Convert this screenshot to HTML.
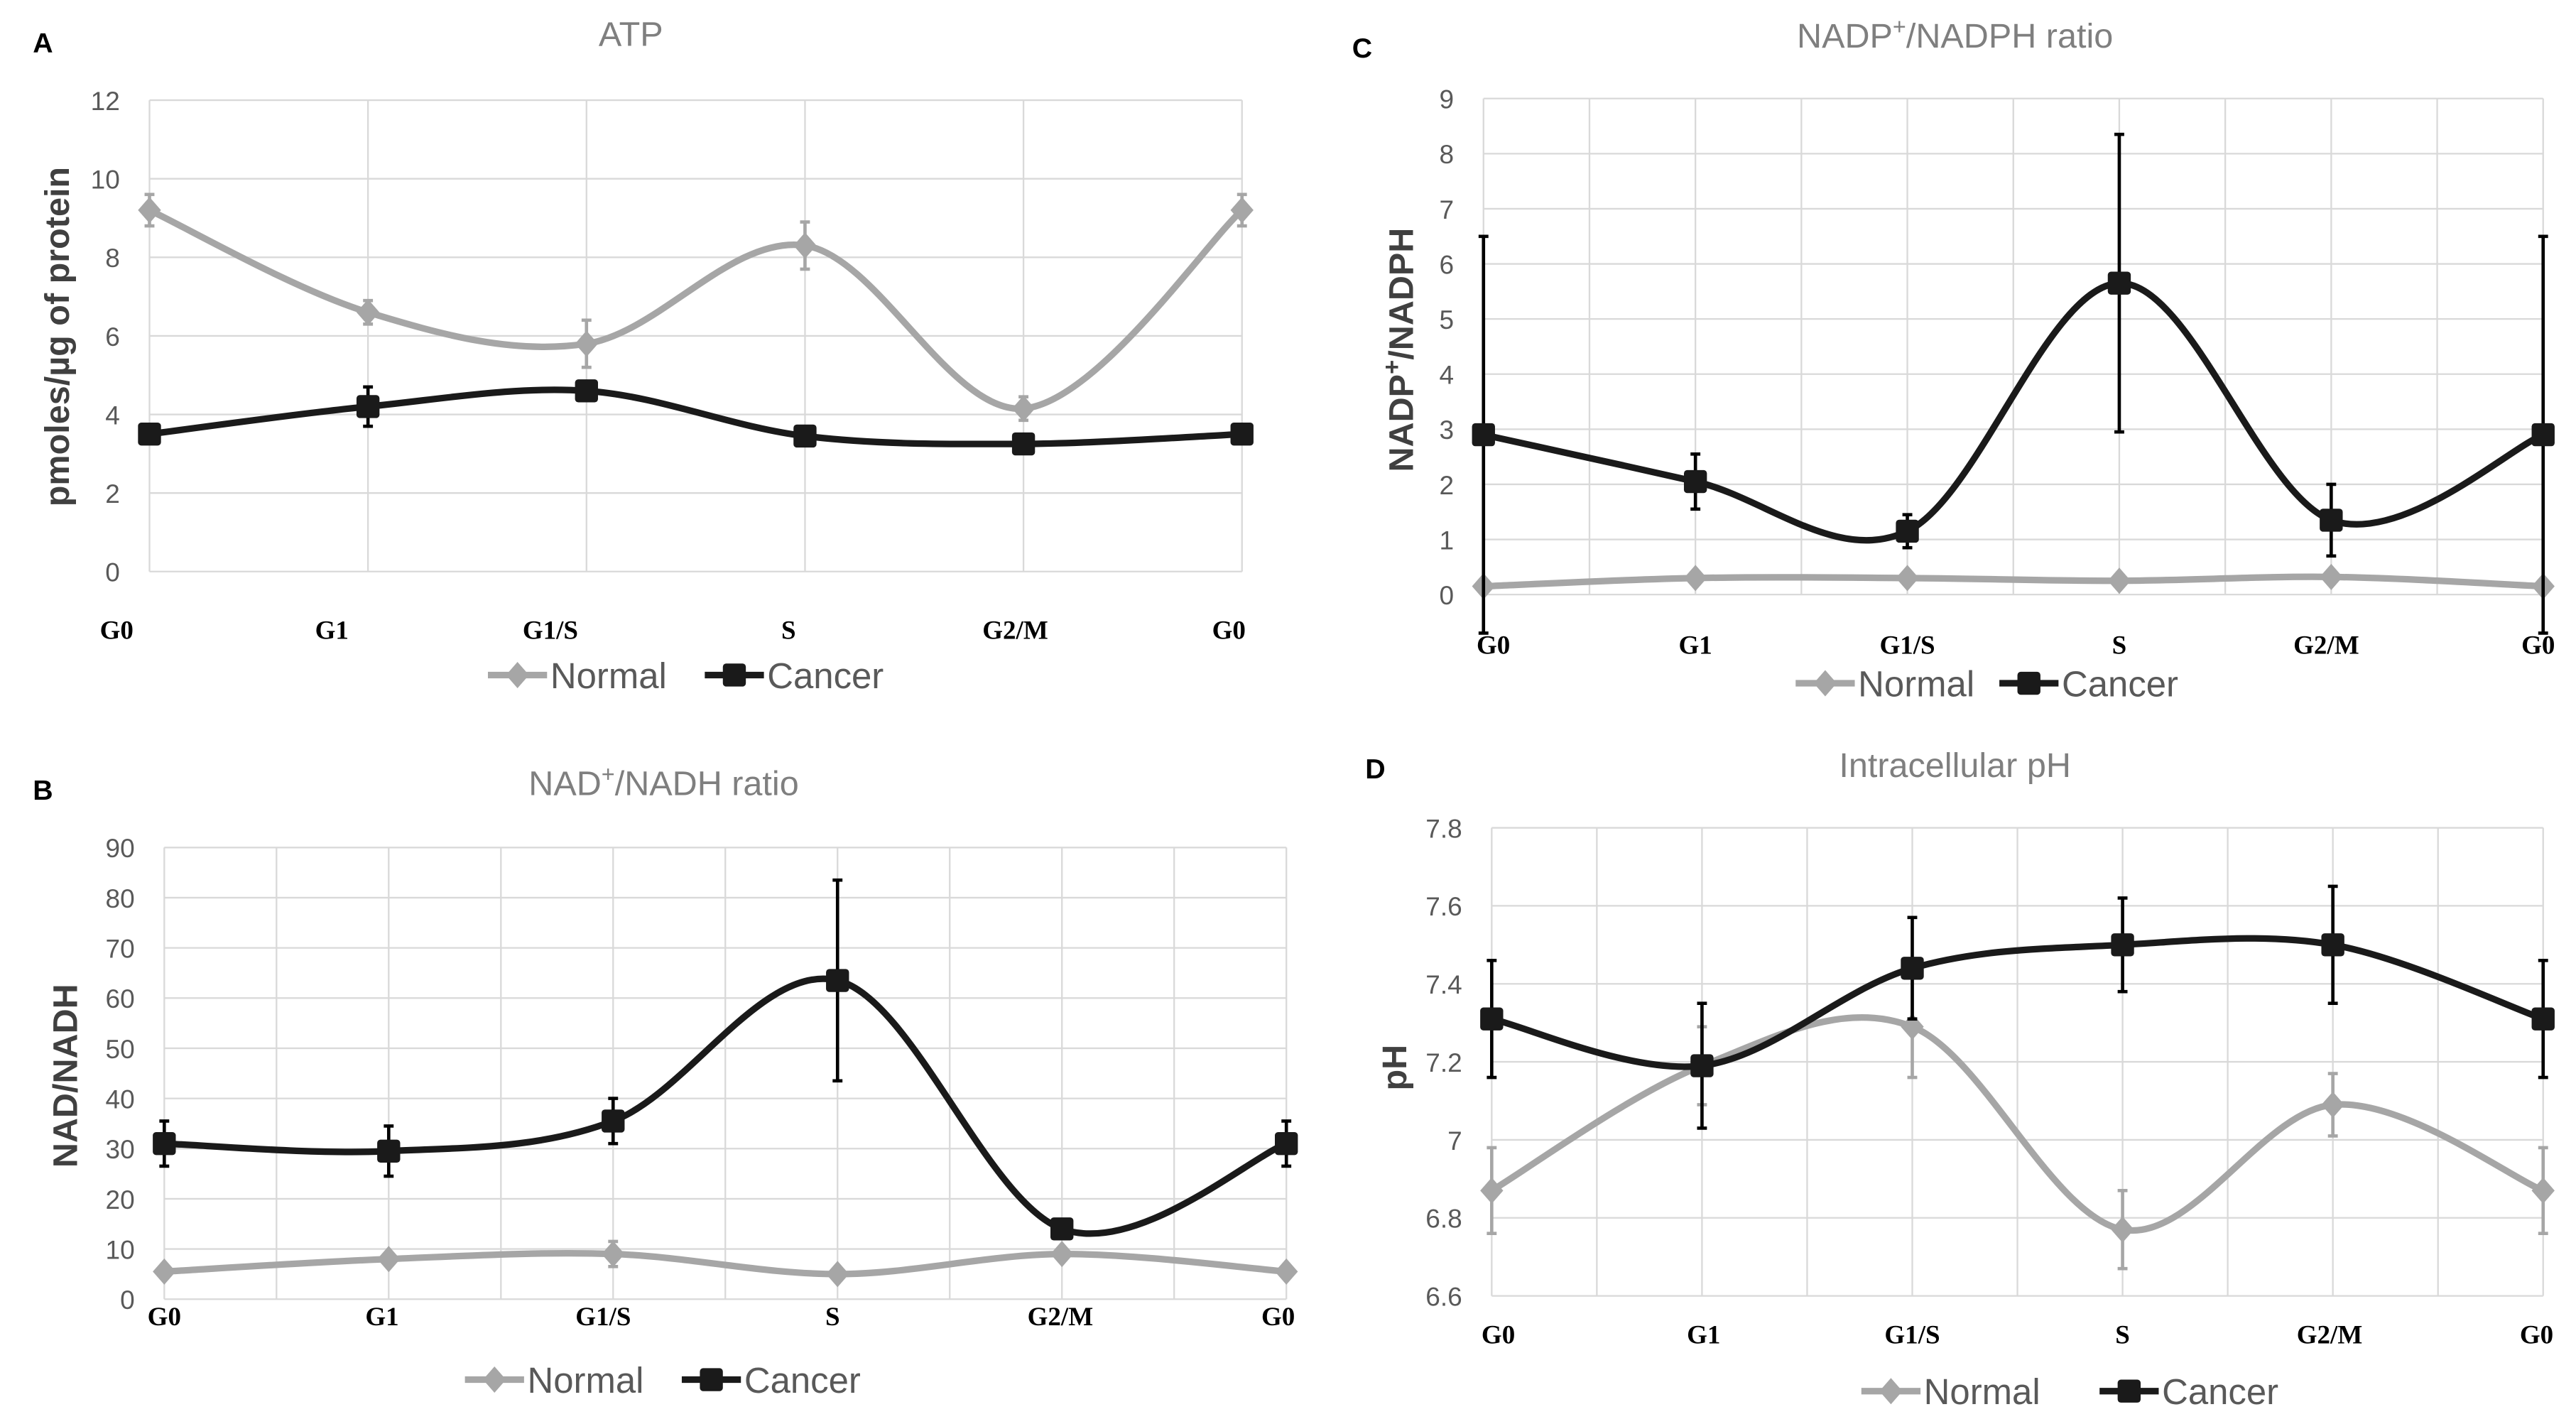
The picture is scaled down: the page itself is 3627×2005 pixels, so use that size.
<!DOCTYPE html>
<html><head><meta charset="utf-8"><style>
html,body{margin:0;padding:0;background:#fff}
svg{display:block}
</style></head><body>
<svg id="fig" width="3627" height="2005" viewBox="0 0 1568 867" preserveAspectRatio="none" xmlns="http://www.w3.org/2000/svg"></svg>
<script>
const categories = ["G0","G1","G1/S","S","G2/M","G0"];
// Panel A - ATP
const atpNormal = [9.2, 6.6, 5.8, 8.3, 4.15, 9.2];
const atpNormalErr = [0.4, 0.3, 0.6, 0.6, 0.3, 0.4];
const atpCancer = [3.5, 4.2, 4.6, 3.45, 3.25, 3.5];
const atpCancerErr = [0, 0.5, 0, 0, 0, 0];
const atpTicks = [0, 2, 4, 6, 8, 10, 12];
// Panel B - NAD+/NADH
const nadNormal = [5.5, 8, 9, 5, 9, 5.5];
const nadNormalErr = [0, 0, 2.5, 0, 0, 0];
const nadCancer = [31, 29.5, 35.5, 63.5, 14, 31];
const nadCancerErr = [4.5, 5, 4.5, 20, 0, 4.5];
const nadTicks = [0, 10, 20, 30, 40, 50, 60, 70, 80, 90];
// Panel C - NADP+/NADPH
const nadpNormal = [0.15, 0.3, 0.3, 0.25, 0.32, 0.15];
const nadpNormalErr = [0, 0, 0, 0, 0, 0];
const nadpCancer = [2.9, 2.05, 1.15, 5.65, 1.35, 2.9];
const nadpCancerErr = [3.6, 0.5, 0.3, 2.7, 0.65, 3.6];
const nadpTicks = [0, 1, 2, 3, 4, 5, 6, 7, 8, 9];
// Panel D - pH
const phNormal = [6.87, 7.19, 7.29, 6.77, 7.09, 6.87];
const phNormalErr = [0.11, 0.1, 0.13, 0.1, 0.08, 0.11];
const phCancer = [7.31, 7.19, 7.44, 7.5, 7.5, 7.31];
const phCancerErr = [0.15, 0.16, 0.13, 0.12, 0.15, 0.15];
const phTicks = ["6.6", "6.8", "7", "7.2", "7.4", "7.6", "7.8"];

const NS = "http://www.w3.org/2000/svg";
const svg = document.getElementById("fig");
function mk(tag, attrs, parent, text) {
  const e = document.createElementNS(NS, tag);
  for (const k in attrs) e.setAttribute(k, attrs[k]);
  if (text !== undefined) e.textContent = text;
  (parent || svg).appendChild(e);
  return e;
}
function smooth(pts) {
  let d = "M" + pts[0][0] + "," + pts[0][1];
  for (let i = 0; i < pts.length - 1; i++) {
    const p0 = pts[Math.max(0, i - 1)], p1 = pts[i], p2 = pts[i + 1], p3 = pts[Math.min(pts.length - 1, i + 2)];
    const c1 = [p1[0] + (p2[0] - p0[0]) / 6, p1[1] + (p2[1] - p0[1]) / 6];
    const c2 = [p2[0] - (p3[0] - p1[0]) / 6, p2[1] - (p3[1] - p1[1]) / 6];
    d += " C" + c1 + " " + c2 + " " + p2;
  }
  return d;
}
function panel(o) {
  const g = mk("g", {});
  
  
  const ticks = o.ticks.map(Number);
  const ymin = ticks[0], ymax = ticks[ticks.length - 1];
  const xs = i => o.l + (o.r - o.l) * i / (categories.length - 1);
  const ys = v => o.b - (o.b - o.t) * (v - ymin) / (ymax - ymin);
  const nv = o.halfGrid ? 10 : 5;
  for (let i = 0; i <= nv; i++) {
    const x = o.l + (o.r - o.l) * i / nv;
    const ln = mk("line", {x1: x, x2: x, y1: o.t, y2: o.b, stroke: "#d9d9d9", "stroke-width": 1}, g);
    
    
  }
  o.ticks.forEach(t => {
    const y = ys(Number(t));
    const ln = mk("line", {x1: o.l, x2: o.r, y1: y, y2: y, stroke: "#d9d9d9", "stroke-width": 1}, g);
    
    
    const tx = mk("text", {x: o.l - 18, y: y + 6, "text-anchor": "end", "font-size": 16, fill: "#595959", "font-family": "Liberation Sans, sans-serif"}, g, String(t));
    
    
  });
  categories.forEach((c, i) => {
    const tx = mk("text", {x: xs(i) + o.xoff[i], y: o.xl, "text-anchor": "middle", "font-size": 16, "font-weight": "bold", fill: "#000", "font-family": "Liberation Serif, serif"}, g, c);
    
    
  });
  const ti = mk("text", {x: o.tx, y: o.ty, "text-anchor": "middle", "font-size": 21, fill: "#7f7f7f", "font-family": "Liberation Sans, sans-serif"}, g);
  ti.innerHTML = o.title;
  
  
  const lt = mk("text", {x: o.lx, y: o.ly, "font-size": 17, "font-weight": "bold", fill: "#000", "font-family": "Liberation Sans, sans-serif"}, g, o.letter);
  
  
  const yl = mk("text", {x: 0, y: 0, transform: `translate(${o.yx},${o.yy}) rotate(-90)`, "text-anchor": "middle", "font-size": 21, "font-weight": "bold", fill: "#404040", "font-family": "Liberation Sans, sans-serif"}, g);
  yl.innerHTML = o.ylabel;
  
  
  [[o.n, o.ne, "#a6a6a6", "diamond", "normal"], [o.c, o.ce, "#1a1a1a", "square", "cancer"]].forEach(([vals, errs, col, mark, nm]) => {
    const pts = vals.map((v, i) => [xs(i), ys(v)]);
    const p = mk("path", {d: smooth(pts), fill: "none", stroke: col, "stroke-width": 4, "stroke-linejoin": "round"}, g);
    
    
    vals.forEach((v, i) => {
      const x = xs(i);
      if (errs[i] > 0) {
        const y1 = ys(v + errs[i]), y2 = ys(v - errs[i]);
        const eb = mk("path", {d: `M${x},${y1}V${y2}M${x - 3},${y1}H${x + 3}M${x - 3},${y2}H${x + 3}`, stroke: nm === "cancer" ? "#000" : "#a6a6a6", "stroke-width": 2, fill: "none"}, g);
        
        
      }
      const y = ys(v);
      let m;
      if (mark === "diamond") m = mk("path", {d: `M${x},${y - 8}L${x + 7},${y}L${x},${y + 8}L${x - 7},${y}Z`, fill: col}, g);
      else m = mk("rect", {x: x - 7, y: y - 7, width: 14, height: 14, rx: 2, fill: col}, g);
      
      
    });
  });
  const lg = mk("g", {}, g);
  
  
  const ly = o.lgy, lx = o.lgx;
  mk("line", {x1: lx, x2: lx + 36, y1: ly, y2: ly, stroke: "#a6a6a6", "stroke-width": 4}, lg);
  mk("path", {d: `M${lx + 18},${ly - 8}L${lx + 25},${ly}L${lx + 18},${ly + 8}L${lx + 11},${ly}Z`, fill: "#a6a6a6"}, lg);
  const t1 = mk("text", {x: lx + 38, y: ly + 8, "font-size": 22, fill: "#595959", "font-family": "Liberation Sans, sans-serif"}, lg, "Normal");
  
  
  const cx = lx + o.lgc;
  mk("line", {x1: cx, x2: cx + 36, y1: ly, y2: ly, stroke: "#1a1a1a", "stroke-width": 4}, lg);
  mk("rect", {x: cx + 11, y: ly - 7, width: 14, height: 14, rx: 2, fill: "#1a1a1a"}, lg);
  const t2 = mk("text", {x: cx + 38, y: ly + 8, "font-size": 22, fill: "#595959", "font-family": "Liberation Sans, sans-serif"}, lg, "Cancer");
  
  
}
panel({name: "panel-a-atp", l: 91, r: 756, t: 61, b: 348, ticks: atpTicks, halfGrid: false, xl: 389, xoff: [-20, -22, -22, -10, -5, -8],
  n: atpNormal, ne: atpNormalErr, c: atpCancer, ce: atpCancerErr, title: "ATP", tx: 384, ty: 28,
  letter: "A", lx: 20, ly: 32, ylabel: "pmoles/µg of protein", yx: 42, yy: 205, lgx: 297, lgy: 411, lgc: 132});
panel({name: "panel-b-nad", l: 100, r: 783, t: 516, b: 791, ticks: nadTicks, halfGrid: true, xl: 807, xoff: [0, -4, -6, -3, -1, -5],
  n: nadNormal, ne: nadNormalErr, c: nadCancer, ce: nadCancerErr, title: 'NAD<tspan font-size="14" dy="-8">+</tspan><tspan dy="8">/NADH ratio</tspan>', tx: 404, ty: 484,
  letter: "B", lx: 20, ly: 487, ylabel: "NAD/NADH", yx: 47, yy: 655, lgx: 283, lgy: 840, lgc: 132});
panel({name: "panel-c-nadp", l: 903, r: 1548, t: 60, b: 362, ticks: nadpTicks, halfGrid: true, xl: 398, xoff: [6, 0, 0, 0, -3, -3],
  n: nadpNormal, ne: nadpNormalErr, c: nadpCancer, ce: nadpCancerErr, title: 'NADP<tspan font-size="14" dy="-8">+</tspan><tspan dy="8">/NADPH ratio</tspan>', tx: 1190, ty: 29,
  letter: "C", lx: 823, ly: 35, ylabel: 'NADP<tspan font-size="15" dy="-8">+</tspan><tspan dy="8">/NADPH</tspan>', yx: 860, yy: 213, lgx: 1093, lgy: 416, lgc: 124});
panel({name: "panel-d-ph", l: 908, r: 1548, t: 504, b: 789, ticks: phTicks, halfGrid: true, xl: 818, xoff: [4, 1, 0, 0, -2, -4],
  n: phNormal, ne: phNormalErr, c: phCancer, ce: phCancerErr, title: "Intracellular pH", tx: 1190, ty: 473,
  letter: "D", lx: 831, ly: 474, ylabel: "pH", yx: 856, yy: 650, lgx: 1133, lgy: 847, lgc: 145});
</script>
</body></html>
